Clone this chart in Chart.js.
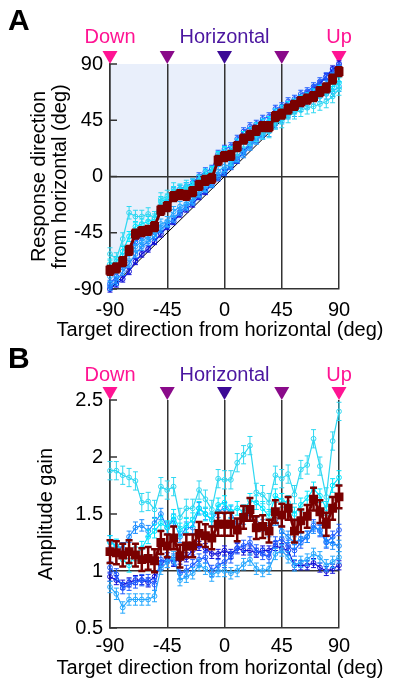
<!DOCTYPE html>
<html><head><meta charset="utf-8">
<script src="https://cdn.jsdelivr.net/npm/chart.js@4.4.1/dist/chart.umd.min.js"></script>
<style>
html,body{margin:0;padding:0;background:#fff;width:401px;height:682px;overflow:hidden}
canvas{position:absolute;left:0}
#ca{top:0}
#cb{top:341px}
</style></head><body>
<canvas id="ca" width="401" height="341"></canvas>
<canvas id="cb" width="401" height="341"></canvas>
<script>
// ---------- DATA ----------
const targetDirs = [-90,-85,-80,-75,-70,-65,-60,-55,-50,-45,-40,-35,-30,-25,-20,-15,-10,-5,0,5,10,15,20,25,30,35,40,45,50,55,60,65,70,75,80,85,90];
const xTicks = [-90,-45,0,45,90];
const xTickLabels = ['-90','-45','0','45','90'];
const yTicksA = [-90,-45,0,45,90];
const yTickLabelsA = ['-90','-45','0','45','90'];
const yTicksB = [0.5,1,1.5,2,2.5];
const yTickLabelsB = ['0.5','1','1.5','2','2.5'];
const markerDirs = [-90,-45,0,45,90];
const dirLabels = ['Down','Horizontal','Up'];
const dirLabelPos = [-90,0,90];
const diagonal = [-90,90];
const xTitle = 'Target direction from horizontal (deg)';

// Panel A: response direction (deg)
const respMean = [-75,-73,-68,-59,-46,-44,-43,-40,-27,-24,-16,-14.5,-15,-12,-7,-3,-1.5,13,16,17,24,30,33,37,40,40,48,50,54,57,60,62,64,68,71,78,84];
const respS1 = [-62,-66,-50,-29,-32,-32,-30,-33,-18,-16,-10,-12,-8,-10,-4,0,2,14,18,14,22,28,30,33,35,36,43,44,48,51,53,55,56,58,60,64,70];
const respS2 = [-70,-68,-60,-48,-40,-38,-36,-34,-20,-18,-12,-10,-9,-6,-3,2,4,16,20,20,26,32,35,39,42,44,50,53,56,58,61,63,66,69,70,72,75];
const respS3 = [-80,-76,-66,-62,-56,-52,-48,-44,-38,-36,-28,-24,-22,-18,-12,-8,-4,4,8,10,16,22,26,30,34,36,42,46,50,52,56,58,62,64,66,68,72];
const respS4 = [-88,-84,-76,-70,-62,-56,-52,-48,-42,-38,-34,-28,-24,-20,-14,-10,-6,0,4,9,14,18,24,29,33,38,42,46,50,54,58,62,66,70,74,80,86];
const respS5 = [-86,-80,-70,-60,-52,-48,-46,-40,-26,-22,-12,-10,-8,-5,0,4,6,18,22,24,30,36,40,42,46,48,54,56,60,62,66,68,72,76,80,84,88];
const respS6 = [-90,-86,-82,-76,-68,-62,-58,-52,-46,-40,-36,-30,-26,-22,-16,-12,-6,-1,3,8,13,20,26,30,35,40,44,48,52,56,62,66,70,74,80,86,90];
const respErrMean = 3.5;
const respErrSubj = [5,4,4,3,3,2.5];

// Panel B: amplitude gain
const gainMean = [1.17,1.16,1.14,1.17,1.14,1.10,1.11,1.09,1.25,1.22,1.29,1.13,1.22,1.22,1.33,1.31,1.29,1.41,1.41,1.41,1.36,1.47,1.54,1.38,1.39,1.35,1.52,1.49,1.55,1.35,1.44,1.48,1.63,1.52,1.41,1.55,1.65];
const gainS1 = [1.88,1.88,1.84,1.82,1.79,1.60,1.61,1.54,1.74,1.71,1.74,1.47,1.55,1.55,1.71,1.63,1.54,1.81,1.80,1.80,1.95,2.02,2.10,1.69,1.67,1.60,1.84,1.81,1.85,1.67,1.89,1.93,2.16,1.92,1.65,2.14,2.40];
const gainS2 = [1.25,1.22,1.10,1.05,1.15,1.20,1.30,1.35,1.42,1.38,1.48,1.36,1.40,1.45,1.55,1.50,1.45,1.58,1.60,1.52,1.55,1.52,1.62,1.60,1.55,1.48,1.66,1.62,1.60,1.50,1.58,1.64,1.72,1.66,1.55,1.75,1.82];
const gainS3 = [0.86,0.80,0.68,0.75,0.75,0.75,0.75,0.78,1.02,1.08,1.12,0.92,0.95,0.98,1.05,1.02,0.96,1.00,1.00,0.98,1.00,1.06,1.10,1.02,1.00,1.02,1.15,1.18,1.12,1.05,1.08,1.10,1.15,1.12,1.05,1.08,1.12];
const gainS4 = [1.26,1.22,1.20,1.30,1.38,1.40,1.35,1.42,1.50,1.38,1.45,1.30,1.38,1.38,1.55,1.50,1.45,1.52,1.55,1.52,1.40,1.46,1.50,1.42,1.40,1.35,1.45,1.35,1.30,1.25,1.28,1.30,1.38,1.36,1.26,1.24,1.22];
const gainS5 = [1.03,0.97,0.85,0.88,0.90,0.92,0.92,0.88,1.10,1.08,1.10,0.98,1.00,1.05,1.10,1.12,1.00,1.05,1.08,1.12,1.20,1.22,1.25,1.18,1.15,1.12,1.25,1.28,1.22,1.18,1.25,1.30,1.40,1.35,1.25,1.30,1.36];
const gainS6 = [0.95,0.92,0.88,0.90,0.92,0.92,0.90,0.95,1.05,1.12,1.08,1.10,1.12,1.18,1.22,1.20,1.15,1.15,1.18,1.15,1.20,1.18,1.18,1.16,1.18,1.18,1.22,1.20,1.18,1.05,1.05,1.05,1.07,1.03,1.00,1.02,1.05];
const gainErrMean = 0.1;
const gainErrSubj = [0.08,0.06,0.05,0.05,0.05,0.04];

// ---------- STYLE ----------
const FONT = "'Liberation Sans', Arial, Helvetica, sans-serif";
const subjColors = ['#2fd8f2','#00e6ff','#26a8ff','#1a8cff','#1f5cff','#1010d8'];
const meanColor = '#7a0000';
const markerColors = ['#ff1493','#8a0a8a','#3c0a96','#8a0a8a','#ff1493'];
const dirLabelColors = ['#ff1493','#4b16a0','#ff1493'];
const axisColor = '#333';

function pts(vals){ return targetDirs.map((x,i)=>({x:x, y:vals[i]})); }

const errorBarPlugin = {
  id:'errbars',
  afterDatasetDraw(chart, args){
    const ds = chart.data.datasets[args.index];
    if (ds.errVal == null) return;
    const ys = chart.scales.y, ctx = chart.ctx;
    ctx.save();
    ctx.strokeStyle = ds.borderColor; ctx.lineWidth = ds.errWidth;
    args.meta.data.forEach((p,i)=>{
      const v = ds.data[i].y;
      const e = Array.isArray(ds.errVal) ? ds.errVal[i] : ds.errVal;
      const y1 = ys.getPixelForValue(v-e), y2 = ys.getPixelForValue(v+e), x = p.x, c = ds.capW;
      ctx.beginPath();
      ctx.moveTo(x,y1); ctx.lineTo(x,y2);
      ctx.moveTo(x-c,y1); ctx.lineTo(x+c,y1);
      ctx.moveTo(x-c,y2); ctx.lineTo(x+c,y2);
      ctx.stroke();
    });
    ctx.restore();
  }
};

const decorPlugin = {
  id:'decor',
  beforeDatasetsDraw(chart, args, opts){
    const ctx = chart.ctx, xs = chart.scales.x, ys = chart.scales.y;
    const top = chart.chartArea.top, left = chart.chartArea.left;
    ctx.save();
    ctx.strokeStyle = axisColor; ctx.lineWidth = 1.5;
    ys.ticks.forEach(t=>{ const y = ys.getPixelForValue(t.value); ctx.beginPath(); ctx.moveTo(left,y); ctx.lineTo(left+7,y); ctx.stroke(); });
    markerDirs.forEach((d,i)=>{
      const x = xs.getPixelForValue(d);
      ctx.fillStyle = markerColors[i];
      ctx.beginPath(); ctx.moveTo(x-7.5, top-13); ctx.lineTo(x+7.5, top-13); ctx.lineTo(x, top); ctx.closePath(); ctx.fill();
    });
    ctx.font = '20px ' + FONT; ctx.textAlign = 'center'; ctx.textBaseline = 'alphabetic';
    dirLabels.forEach((s,i)=>{ ctx.fillStyle = dirLabelColors[i]; ctx.fillText(s, xs.getPixelForValue(dirLabelPos[i]), top - opts.labelGap); });
    ctx.fillStyle = '#000'; ctx.textBaseline = 'middle';
    ctx.fillText(xTitle, 220, opts.xTitleY);
    ctx.font = 'bold 30px ' + FONT; ctx.textAlign = 'left'; ctx.textBaseline = 'alphabetic';
    ctx.fillText(opts.letter, 8, opts.letterBase);
    ctx.restore();
  }
};

function buildDatasets(meanVals, subjVals, meanErr, subjErr, withDiag){
  const ds = [];
  ds.push({data: pts(meanVals), borderColor: meanColor, backgroundColor: meanColor, borderWidth: 3,
    pointStyle:'rect', pointRadius: 4.2, pointBackgroundColor: meanColor, pointBorderColor: meanColor,
    errVal: meanErr, errWidth: 2.5, capW: 3.5, clip: false, fill: false, tension: 0});
  subjVals.forEach((v,k)=>{
    ds.push({data: pts(v), borderColor: subjColors[k], backgroundColor: subjColors[k], borderWidth: 1.2,
      pointStyle:'circle', pointRadius: 2.4, pointBorderWidth: 1, pointBackgroundColor: 'rgba(255,255,255,0)',
      pointBorderColor: subjColors[k], errVal: subjErr[k], errWidth: 1, capW: 2.5, clip: false, fill: false, tension: 0});
  });
  if (withDiag){
    ds.push({data: diagonal.map(v=>({x:v, y:v})), borderColor:'#000', borderWidth: 1, pointRadius: 0,
      fill: 'end', backgroundColor: '#e9effb', clip: false, tension: 0});
  }
  return ds;
}

function makeChart(id, cfg){
  return new Chart(document.getElementById(id), {
    type: 'line',
    data: { datasets: cfg.datasets },
    plugins: [errorBarPlugin, decorPlugin],
    options: {
      responsive: false, animation: false, devicePixelRatio: 1,
      layout: { padding: { top: cfg.padTop, left: 0, right: 62, bottom: cfg.padBottom } },
      plugins: { legend: {display:false}, tooltip: {enabled:false},
        filler: { drawTime: 'beforeDraw' },
        decor: { letter: cfg.letter, letterBase: cfg.letterBase, labelGap: cfg.labelGap, xTitleY: cfg.xTitleY } },
      scales: {
        x: { type: 'linear', min: -90, max: 90,
          afterBuildTicks: s => { s.ticks = xTicks.map(v=>({value:v})); },
          afterFit: s => { s.height = cfg.xHeight; },
          grid: { color: axisColor, lineWidth: 1.5, drawTicks: false },
          border: { display: true, color: axisColor, width: 1.5 },
          ticks: { color:'#000', padding: cfg.xTickPad, font: {family: FONT, size: 20, lineHeight: 1.05},
            callback: v => xTickLabels[xTicks.indexOf(v)] },
          title: { display: false } },
        y: { type: 'linear', min: cfg.yMin, max: cfg.yMax,
          afterBuildTicks: s => { s.ticks = cfg.yTicks.map(v=>({value:v})); },
          afterFit: s => { s.width = 110; },
          grid: { color: c => (c.tick && c.tick.value === cfg.yRef) ? axisColor : 'rgba(0,0,0,0)', lineWidth: 1.5, drawTicks: false },
          border: { display: true, color: axisColor, width: 1.5 },
          ticks: { color:'#000', padding: 7, font: {family: FONT, size: 20, lineHeight: 1.05},
            callback: v => cfg.yLabels[cfg.yTicks.indexOf(v)] },
          title: { display: true, text: cfg.yTitle, color:'#000',
            font: {family: FONT, size: 20, lineHeight: 1.05}, padding: {top: cfg.yTitlePad, bottom: 0} } }
      }
    }
  });
}

makeChart('ca', {
  datasets: buildDatasets(respMean, [respS1,respS2,respS3,respS4,respS5,respS6], respErrMean, respErrSubj, true),
  padTop: 64, padBottom: 0, xHeight: 52, xTickPad: 10.5, xTitleY: 330.5,
  yMin: -90, yMax: 90, yTicks: yTicksA, yLabels: yTickLabelsA, yRef: 0,
  yTitle: ['Response direction','from horizontal (deg)'], yTitlePad: 28.5,
  letter: 'A', letterBase: 30, labelGap: 21
});

makeChart('cb', {
  datasets: buildDatasets(gainMean, [gainS1,gainS2,gainS3,gainS4,gainS5,gainS6], gainErrMean, gainErrSubj, false),
  padTop: 59, padBottom: 3.5, xHeight: 50.5, xTickPad: 7.5, xTitleY: 327,
  yMin: 0.5, yMax: 2.5, yTicks: yTicksB, yLabels: yTickLabelsB, yRef: 1,
  yTitle: 'Amplitude gain', yTitlePad: 35.5,
  letter: 'B', letterBase: 27, labelGap: 19
});
</script>
</body></html>
